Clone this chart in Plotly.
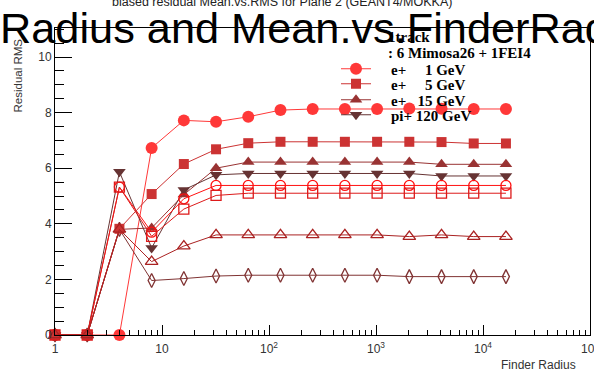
import plotly.graph_objects as go

# ---------------- data ----------------
finder_radius = [1, 2, 4, 8, 16, 32, 64, 128, 256, 512, 1024, 2048, 4096, 8192, 16384]

e1_filled = [0, 0, 0, 6.73, 7.72, 7.67, 7.85, 8.09, 8.13, 8.13, 8.13, 8.15, 8.14, 8.13, 8.13]
e5_filled = [0, 0, 3.82, 5.07, 6.15, 6.68, 6.90, 6.95, 6.95, 6.95, 6.95, 6.95, 6.94, 6.89, 6.89]
e15_filled = [0, 0, 3.80, 3.85, 5.05, 6.00, 6.22, 6.22, 6.22, 6.22, 6.22, 6.22, 6.14, 6.14, 6.14]
pi120_filled = [0, 0, 5.87, 3.13, 5.22, 5.76, 5.81, 5.81, 5.81, 5.81, 5.81, 5.81, 5.72, 5.72, 5.72]

e1_open = [0, 0, 5.32, 3.70, 4.90, 5.38, 5.38, 5.38, 5.38, 5.38, 5.38, 5.38, 5.38, 5.38, 5.38]
e5_open = [0, 0, 5.32, 3.55, 4.53, 5.02, 5.10, 5.10, 5.10, 5.10, 5.10, 5.10, 5.10, 5.10, 5.10]
e15_open = [0, 0, 3.80, 2.64, 3.20, 3.60, 3.60, 3.60, 3.60, 3.60, 3.60, 3.54, 3.60, 3.54, 3.54]
pi120_open = [0, 0, 3.80, 1.96, 2.03, 2.12, 2.15, 2.15, 2.15, 2.15, 2.15, 2.10, 2.10, 2.10, 2.10]

NB = "\u00a0"
legend_names = [NB * 4 + "e+" + NB * 5 + "1 GeV", NB * 4 + "e+" + NB * 5 + "5 GeV",
                NB * 4 + "e+" + NB * 3 + "15 GeV", NB * 4 + "pi+ 120 GeV"]

x_tickvals = [1, 10, 100, 1000, 10000, 100000]
x_ticktext = ["1", "10", "10<sup>2</sup>", "10<sup>3</sup>", "10<sup>4</sup>", "10<sup>5</sup>"]
x_minorvals = [m * 10 ** d for d in range(5) for m in range(2, 10)]

title_big = "Radius and Mean.vs.FinderRadius"
title_small = "biased residual Mean.vs.RMS for Plane 2 (GEANT4/MOKKA)"
legend_head1 = "1track"
legend_head2 = ": 6 Mimosa26 + 1FEI4"

# ---------------- styles ----------------
C_E1 = "#ff3838"
C_E5 = "#cc3333"
C_E15 = "#993333"
C_PI = "#663333"
C_O1 = "#ff1010"
C_O5 = "#dd1a1a"
C_O15 = "#aa2222"
C_OPI = "#803333"

fig = go.Figure()


def add(y, color, symbol, size, name=None, legend=None, open_=False):
    marker = dict(symbol=symbol, size=size, color=color)
    if open_:
        marker["line"] = dict(color=color, width=1.3)
    else:
        marker["line"] = dict(width=0)
    fig.add_trace(go.Scatter(
        x=finder_radius, y=y, mode="lines+markers",
        line=dict(color=color, width=1), marker=marker,
        name=name if name else "", showlegend=bool(name),
        legend=legend if legend else "legend",
        cliponaxis=False,
    ))


add(e1_filled, C_E1, "circle", 12, legend_names[0], "legend")
add(e15_filled, C_E15, "triangle-up", 11, legend_names[2], "legend3")
add(pi120_filled, C_PI, "triangle-down", 11, legend_names[3], "legend4")
add(e1_open, C_O1, "circle-open", 10, open_=True)
add(pi120_open, C_OPI, "diamond-tall-open", 10, open_=True)
add(e5_filled, C_E5, "square", 10, legend_names[1], "legend2")
add(e5_open, C_O5, "square-open", 10, open_=True)
add(e15_open, C_O15, "triangle-up-open", 11, open_=True)

W, H = 594, 377
ML, MR, MT, MB = 55, 4, 28, 42
PW, PH = W - ML - MR, H - MT - MB


def px(xp):
    return (xp - ML) / PW


def py(yp):
    return (MT + PH - yp) / PH


legend_font = dict(family="Liberation Serif, Times New Roman, serif", size=15, color="black", weight="bold")
leg_common = dict(xanchor="left", yanchor="middle", bgcolor="rgba(0,0,0,0)", borderwidth=0,
                  font=legend_font, itemsizing="trace", itemclick=False)

axis_font = dict(family="Liberation Sans, Arial, sans-serif", size=12, color="#333333")
label_font = dict(family="Liberation Sans, Arial, sans-serif", size=11.5, color="#333333")

fig.update_layout(
    width=W, height=H,
    margin=dict(l=ML, r=MR, t=MT, b=MB, autoexpand=False),
    paper_bgcolor="white", plot_bgcolor="white",
    title=dict(text=title_big, x=0, xref="container", xanchor="left",
               y=1 - 27.5 / H, yref="container", yanchor="middle", automargin=False,
               font=dict(family="Liberation Sans, Arial, sans-serif", size=43.3, color="black")),
    xaxis=dict(type="log", range=[0, 5], showline=True, linecolor="black", linewidth=1, mirror=True,
               ticks="inside", ticklen=10, tickcolor="black", tickwidth=1,
               tickmode="array", tickvals=x_tickvals, ticktext=x_ticktext,
               showgrid=False, zeroline=False, tickfont=axis_font, ticklabelstandoff=3,
               ticklabeloverflow="allow", automargin=False,
               minor=dict(ticks="inside", ticklen=5, tickcolor="black", tickwidth=1,
                          tickmode="array", tickvals=x_minorvals, showgrid=False)),
    yaxis=dict(range=[0, (MT + PH - 28) / 27.8], showline=True, linecolor="black", linewidth=1, mirror=True,
               ticks="inside", ticklen=17, tickcolor="black", tickwidth=1,
               tick0=0, dtick=2, showgrid=False, zeroline=False, tickfont=axis_font,
               ticklabeloverflow="allow", automargin=False,
               minor=dict(ticks="inside", ticklen=9, tickcolor="black", tickwidth=1, dtick=0.5, showgrid=False)),
    legend=dict(x=px(336), y=py(69), **leg_common),
    legend2=dict(x=px(336), y=py(84), **leg_common),
    legend3=dict(x=px(336), y=py(100), **leg_common),
    legend4=dict(x=px(336), y=py(115), **leg_common),
    showlegend=True,
    annotations=[
        dict(text=title_small, xref="paper", yref="paper", x=px(282), y=py(11), xanchor="center",
             yanchor="bottom", showarrow=False,
             font=dict(family="Liberation Sans, Arial, sans-serif", size=12.5, color="#222222")),
        dict(text=legend_head1, xref="paper", yref="paper", x=px(386), y=py(37), xanchor="left",
             yanchor="middle", showarrow=False, font=legend_font),
        dict(text=legend_head2, xref="paper", yref="paper", x=px(386), y=py(53), xanchor="left",
             yanchor="middle", showarrow=False, font=legend_font),
        dict(text="Residual RMS", xref="paper", yref="paper", x=px(17.5), y=py(76), xanchor="center",
             yanchor="middle", textangle=-90, showarrow=False, font=label_font),
        dict(text="Finder Radius", xref="paper", yref="paper", x=px(578), y=py(365), xanchor="right",
             yanchor="middle", showarrow=False, font=axis_font),
    ],
)

fig.write_html("out.html")
